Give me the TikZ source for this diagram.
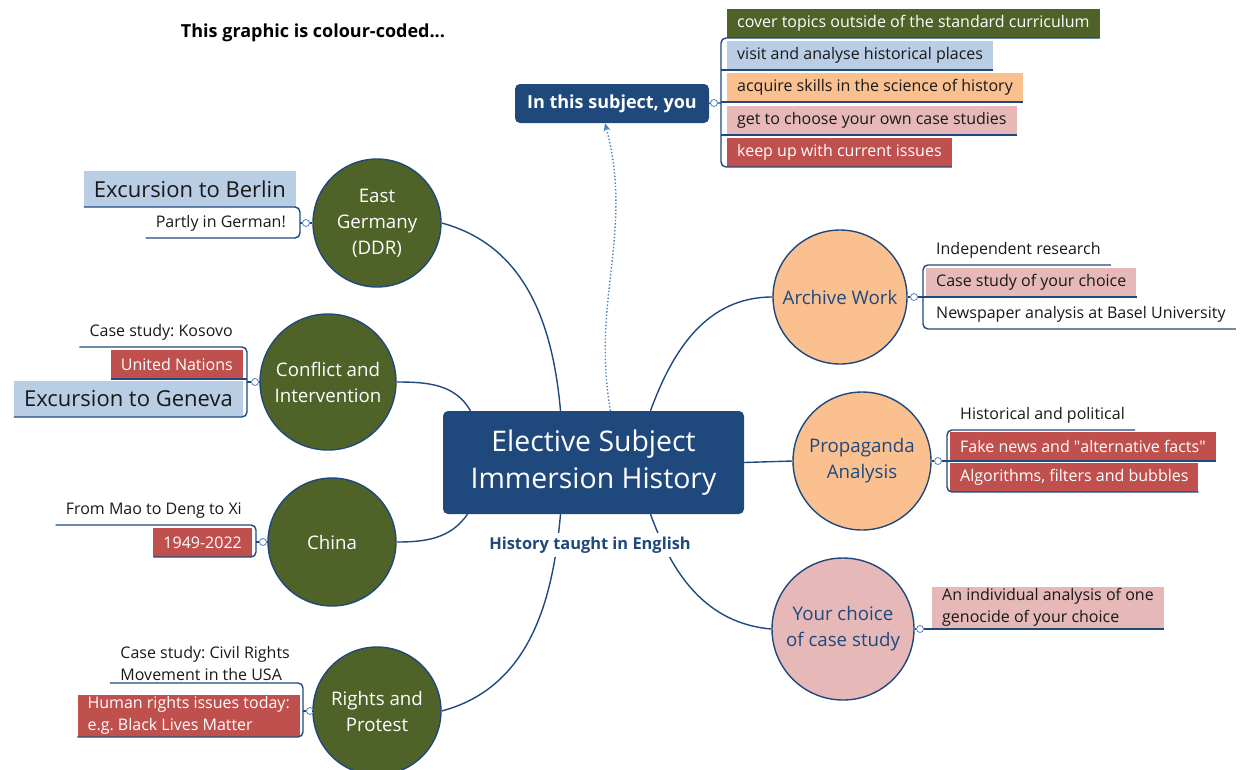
\documentclass[tikz,border=0pt]{standalone}
\usepackage{fontspec}
\setmainfont{Open Sans}
\usetikzlibrary{arrows.meta,positioning,calc}
\definecolor{hubblue}{HTML}{1F497D}
\definecolor{olive}{HTML}{4F6228}
\definecolor{skyblue}{HTML}{B9CDE5}
\definecolor{peach}{HTML}{FAC090}
\definecolor{rose}{HTML}{E6B9B8}
\definecolor{brick}{HTML}{C0504D}
\definecolor{arrowblue}{HTML}{4F81BD}
\frenchspacing
\tikzset{
  link/.style={draw=hubblue, line width=1.4pt},
  topic/.style={circle, draw=hubblue, line width=1.4pt, align=center, inner sep=0pt,
    font=\fontsize{18.7}{26}\selectfont},
  green topic/.style={topic, fill=olive, text=white},
  peach topic/.style={topic, fill=peach, text=hubblue},
  rose topic/.style={topic, fill=rose, text=hubblue},
  item/.style={inner xsep=10pt, inner ysep=2pt, minimum height=29pt, align=left,
    text=black!90, font=\fontsize{16}{22}\selectfont},
  big item/.style={item, minimum height=36pt, font=\fontsize{22}{26}\selectfont},
  knob/.style={circle, draw=arrowblue, fill=white, inner sep=0pt, minimum size=7pt, line width=0.8pt}
}
\begin{document}
\begin{tikzpicture}[x=1pt, y=-1pt]
  \useasboundingbox (0,0) rectangle (1240,769);

  \node[font=\bfseries\fontsize{18}{20}\selectfont] (title) at (313,33) {This graphic is colour-coded...};

  % centre
  \node[fill=hubblue, rounded corners=5pt, text=white, align=center, minimum width=301pt,
        minimum height=103pt, font=\fontsize{28.4}{37}\selectfont] (hub) at (593.5,462.5)
        {Elective Subject\\Immersion History};
  \node[fill=hubblue, rounded corners=5pt, text=white, minimum width=194pt, minimum height=39pt,
        font=\bfseries\fontsize{18}{20}\selectfont] (intro) at (612,103.5) {In this subject, you};

  % topics
  \node[green topic, minimum size=128pt] (ddr) at (377,223) {East\\Germany\\(DDR)};
  \node[green topic, minimum size=136pt] (conf) at (328,382) {Conflict and\\Intervention};
  \node[green topic, minimum size=128pt] (china) at (332,542) {China};
  \node[green topic, minimum size=128pt] (rights) at (377,711) {Rights and\\Protest};
  \node[peach topic, minimum size=134pt] (archive) at (840,297) {Archive Work};
  \node[peach topic, minimum size=138pt] (propa) at (862,461) {Propaganda\\Analysis};
  \node[rose topic, minimum size=142pt] (choice) at (843,629) {Your choice\\of case study};

  % hub links
  \draw[link] ([xshift=-33]hub.north) to[out=95,in=-15] (ddr.east);
  \draw[link] ([xshift=-123]hub.north) to[out=120,in=0] (conf.east);
  \draw[link] ([xshift=-126]hub.south) to[out=235,in=0] (china.east);
  \draw[link] ([xshift=-33]hub.south) to[out=-95,in=15] (rights.east);
  \draw[link] ([xshift=57]hub.north) to[out=70,in=180] (archive.west);
  \draw[link] (hub.east) -- (propa.west);
  \draw[link] ([xshift=57]hub.south) to[out=-70,in=175] (choice.west);
  \draw[arrowblue, line width=1.4pt, dotted, -{Stealth[length=8pt,width=7pt]}]
    ([xshift=17]hub.north) to[out=100,in=-75] ([xshift=-7]intro.south);

  \node[fill=white, text=hubblue, font=\bfseries\fontsize{16.4}{18}\selectfont] (english) at (590,545)
    {History taught in English};

  % what you do
  \node[item, anchor=south west, fill=olive, text=white] (t1) at (727,38) {cover topics outside of the standard curriculum};
  \node[item, anchor=south west, fill=skyblue] (t2) at (727,70) {visit and analyse historical places};
  \node[item, anchor=south west, fill=peach] (t3) at (727,102) {acquire skills in the science of history};
  \node[item, anchor=south west, fill=rose] (t4) at (727,135) {get to choose your own case studies};
  \node[item, anchor=south west, fill=brick, text=white] (t5) at (727,167) {keep up with current issues};
  \coordinate (tbr) at (721,103);
  \node[knob] (tkn) at (714,103) {};
  \draw[link, rounded corners=5pt] (t1.south east) -- (t1.south -| tbr) |- (t5.south east);
  \foreach \t in {t2,t3,t4} \draw[link] (\t.south -| tbr) -- (\t.south east);
  \draw[link] (intro.east) -- (tkn.west) (tkn.east) -- (tkn -| tbr);

  % East Germany
  \node[big item, anchor=south east, fill=skyblue] (d1) at (296,207) {Excursion to Berlin};
  \node[item, anchor=south east] (d2) at (296,238) {Partly in German!};
  \coordinate (dbr) at (300,223);
  \node[knob] (dkn) at (306,223) {};
  \draw[link, rounded corners=5pt] (d1.south west) -- (d1.south -| dbr) |- (d2.south west);
  \draw[link] (ddr.west) -- (dkn.east) (dkn.west) -- (dkn -| dbr);

  % Conflict and Intervention
  \node[item, anchor=south east] (c1) at (243,347) {Case study: Kosovo};
  \node[item, anchor=south east, fill=brick, text=white] (c2) at (243,379) {United Nations};
  \node[big item, anchor=south east, fill=skyblue] (c3) at (243,417) {Excursion to Geneva};
  \coordinate (cbr) at (247,382);
  \node[knob] (ckn) at (255,382) {};
  \draw[link, rounded corners=5pt] (c1.south west) -- (c1.south -| cbr) |- (c3.south west);
  \draw[link] (c2.south -| cbr) -- (c2.south west);
  \draw[link] (conf.west) -- (ckn.east) (ckn.west) -- (ckn -| cbr);

  % China
  \node[item, anchor=south east] (h1) at (252,525) {From Mao to Deng to Xi};
  \node[item, anchor=south east, fill=brick, text=white] (h2) at (252,557) {1949-2022};
  \coordinate (hbr) at (256,542);
  \node[knob] (hkn) at (263,542) {};
  \draw[link, rounded corners=5pt] (h1.south west) -- (h1.south -| hbr) |- (h2.south west);
  \draw[link] (china.west) -- (hkn.east) (hkn.west) -- (hkn -| hbr);

  % Rights and Protest
  \node[item, anchor=south east] (r1) at (300,683) {Case study: Civil Rights\\Movement in the USA};
  \node[item, anchor=south east, fill=brick, text=white] (r2) at (300,737) {Human rights issues today:\\e.g. Black Lives Matter};
  \coordinate (rbr) at (303,711);
  \node[knob] (rkn) at (310,711) {};
  \draw[link, rounded corners=5pt] (r1.south west) -- (r1.south -| rbr) |- (r2.south west);
  \draw[link] (rights.west) -- (rkn.east) (rkn.west) -- (rkn -| rbr);

  % Archive Work
  \node[item, anchor=south west] (a1) at (926,265) {Independent research};
  \node[item, anchor=south west, fill=rose] (a2) at (926,297) {Case study of your choice};
  \node[item, anchor=south west] (a3) at (926,329) {Newspaper analysis at Basel University};
  \coordinate (abr) at (923,297);
  \node[knob] (akn) at (914,297) {};
  \draw[link, rounded corners=5pt] (a1.south east) -- (a1.south -| abr) |- (a3.south east);
  \draw[link] (a2.south -| abr) -- (a2.south east);
  \draw[link] (archive.east) -- (akn.west) (akn.east) -- (akn -| abr);

  % Propaganda Analysis
  \node[item, anchor=south west] (p1) at (950,430) {Historical and political};
  \node[item, anchor=south west, fill=brick, text=white] (p2) at (950,461) {Fake news and \textquotedbl alternative facts\textquotedbl};
  \node[item, anchor=south west, fill=brick, text=white] (p3) at (950,492) {Algorithms, filters and bubbles};
  \coordinate (pbr) at (947,461);
  \node[knob] (pkn) at (938,461) {};
  \draw[link, rounded corners=5pt] (p1.south east) -- (p1.south -| pbr) |- (p3.south east);
  \draw[link] (p2.south -| pbr) -- (p2.south east);
  \draw[link] (propa.east) -- (pkn.west) (pkn.east) -- (pkn -| pbr);

  % Your choice of case study
  \node[item, anchor=south west, fill=rose] (y1) at (932,629) {An individual analysis of one\\genocide of your choice};
  \node[knob] (ykn) at (920,629) {};
  \draw[link] (choice.east) -- (ykn.west) (ykn.east) -- (y1.south west) -- (y1.south east);
\end{tikzpicture}
\end{document}
